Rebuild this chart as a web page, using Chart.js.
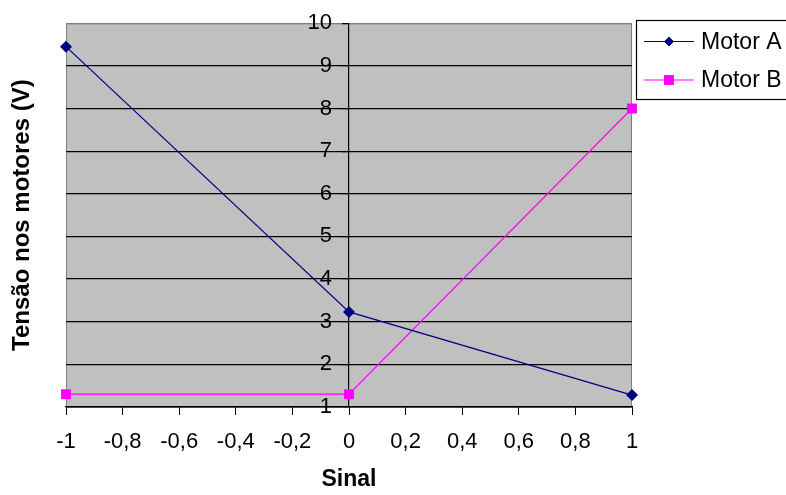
<!DOCTYPE html>
<html>
<head>
<meta charset="utf-8">
<script src="https://cdn.jsdelivr.net/npm/chart.js@4.4.0/dist/chart.umd.min.js"></script>
<style>
  html, body { margin: 0; padding: 0; background: #fff; }
</style>
</head>
<body>
<canvas id="grafico" width="786" height="495"></canvas>
<script>
// dados
const sinal      = [-1, 0, 1];
const motorA     = [9.45, 3.23, 1.28];
const motorB     = [1.3, 1.3, 8];
const nomes      = ['Motor A', 'Motor B'];
const cores      = ['#000080', '#FF00FF'];
const marcadores = ['rectRot', 'rect'];
const xMin = -1, xMax = 1, xPasso = 0.2;
const yMin = 1, yMax = 10, yPasso = 1;

const FONTE = "'Liberation Sans', Arial, sans-serif";
Chart.defaults.font.family = FONTE;
Chart.defaults.color = '#000';

const pontos = serie => sinal.map((x, i) => ({ x, y: serie[i] }));
const fmtVirg = v => String(Math.round(v * 10) / 10).replace('.', ',');

// fundo cinza da area do grafico
const fundoPlot = {
  id: 'fundoPlot',
  beforeDraw(chart) {
    const { ctx, chartArea: a } = chart;
    ctx.save();
    ctx.fillStyle = '#C0C0C0';
    ctx.fillRect(a.left, a.top, a.right - a.left, a.bottom - a.top);
    ctx.strokeStyle = '#808080';
    ctx.lineWidth = 1;
    ctx.strokeRect(a.left + 0.5, a.top + 0.5, a.right - a.left - 1, a.bottom - a.top);
    ctx.restore();
  },
};

// eixo Y cruza em x = 0 (rotulos a esquerda do eixo, como no Excel)
const eixoNoZero = {
  id: 'eixoNoZero',
  afterLayout(chart) {
    const y = chart.scales.y;
    const cx = chart.scales.x.getPixelForValue(0);
    y.left = cx - 40;
    y.right = cx;
    y.width = 40;
  },
};

// legenda com moldura
const legendaBox = {
  id: 'legendaBox',
  afterDraw(chart) {
    const { ctx } = chart;
    ctx.save();
    ctx.fillStyle = '#fff';
    ctx.fillRect(636, 20, 160, 79);
    ctx.strokeStyle = '#000';
    ctx.lineWidth = 1.2;
    ctx.strokeRect(636.5, 20.5, 160, 79);
    const linhas = [41.5, 80];
    chart.data.datasets.forEach((ds, i) => {
      const y = linhas[i];
      ctx.strokeStyle = ds.borderColor;
      ctx.lineWidth = 1.2;
      ctx.beginPath();
      ctx.moveTo(644, y);
      ctx.lineTo(694, y);
      ctx.stroke();
      ctx.fillStyle = ds.backgroundColor;
      Chart.helpers.drawPoint(ctx, { pointStyle: ds.pointStyle, radius: i === 0 ? 4.8 : 6.8, rotation: 0, borderWidth: 0 }, 669, y);
      ctx.fill();
      ctx.fillStyle = '#000';
      ctx.font = '23px ' + FONTE;
      ctx.textBaseline = 'middle';
      ctx.fillText(ds.label, 701, y + 1);
    });
    ctx.restore();
  },
};

new Chart(document.getElementById('grafico'), {
  type: 'line',
  data: {
    datasets: [motorA, motorB].map((serie, i) => ({
      label: nomes[i],
      data: pontos(serie),
      borderColor: cores[i],
      backgroundColor: cores[i],
      borderWidth: 1.2,
      tension: 0,
      pointStyle: marcadores[i],
      pointRadius: i === 0 ? 6 : 7,
      pointBorderWidth: 0,
      pointBackgroundColor: cores[i],
      clip: false,
    })),
  },
  options: {
    responsive: false,
    animation: false,
    devicePixelRatio: 1,
    layout: { padding: { top: 22, right: 154, bottom: 0, left: 0 } },
    plugins: { legend: { display: false }, tooltip: { enabled: false } },
    scales: {
      x: {
        type: 'linear', position: 'bottom',
        min: xMin, max: xMax,
        ticks: { stepSize: xPasso, padding: 14, color: '#000', font: { size: 22 }, maxRotation: 0, callback: fmtVirg },
        grid: { display: true, drawOnChartArea: false, drawTicks: true, tickLength: 8, color: '#000', tickColor: '#000' },
        border: { display: true, color: '#000', width: 1.2 },
        title: { display: true, text: 'Sinal', color: '#000', font: { size: 23, weight: 'bold' }, padding: { top: 0, bottom: 2 } },
        afterFit: s => { s.height = 88; },
      },
      y: {
        type: 'linear', position: 'left', weight: -1,
        min: yMin, max: yMax,
        ticks: { stepSize: yPasso, padding: 10, color: '#000', font: { size: 22 } },
        grid: {
          color: c => c.tick && c.tick.value === yMax ? '#808080' : '#000',
          tickColor: '#000', tickLength: 7, lineWidth: 1.2,
        },
        border: { display: true, color: '#000', width: 1.2 },
        afterFit: s => { s.width = 0; },
      },
      yTitulo: {
        type: 'linear', position: 'left', weight: 1,
        min: yMin, max: yMax,
        ticks: { display: false },
        grid: { display: false },
        border: { display: false },
        title: { display: true, text: 'Tensão nos motores (V)', color: '#000', font: { size: 24, weight: 'bold' }, padding: { top: 8, bottom: 0 } },
        afterFit: s => { s.width = 66; },
      },
    },
  },
  plugins: [fundoPlot, eixoNoZero, legendaBox],
});
</script>
</body>
</html>
